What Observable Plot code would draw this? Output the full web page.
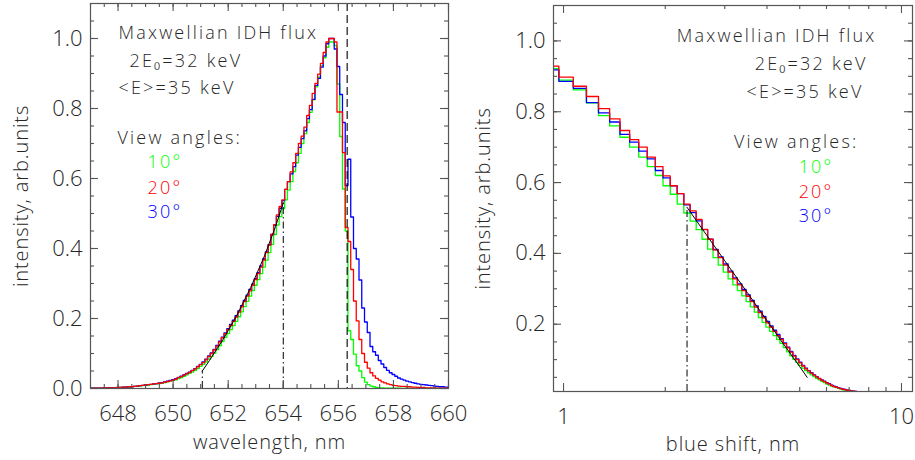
<!DOCTYPE html>
<html><head><meta charset="utf-8">
<script src="https://cdn.jsdelivr.net/npm/d3@7"></script>
<script src="https://cdn.jsdelivr.net/npm/@observablehq/plot@0.6"></script>
<style>
body{margin:0;background:#fff;}
#chart{position:relative;width:915px;height:460px;overflow:hidden;}
#chart svg{position:absolute;top:0;overflow:visible;}
</style></head><body><div id="chart"></div>
<script>
// ---------------- data ----------------
const wavelengths = [
 647.0,647.1,647.2,647.3,647.4,647.5,647.6,647.7,647.8,647.9,
 648.0,648.1,648.2,648.3,648.4,648.5,648.6,648.7,648.8,648.9,
 649.0,649.1,649.2,649.3,649.4,649.5,649.6,649.7,649.8,649.9,
 650.0,650.1,650.2,650.3,650.4,650.5,650.6,650.7,650.8,650.9,
 651.0,651.1,651.2,651.3,651.4,651.5,651.6,651.7,651.8,651.9,
 652.0,652.1,652.2,652.3,652.4,652.5,652.6,652.7,652.8,652.9,
 653.0,653.1,653.2,653.3,653.4,653.5,653.6,653.7,653.8,653.9,
 654.0,654.1,654.2,654.3,654.4,654.5,654.6,654.7,654.8,654.9,
 655.0,655.1,655.2,655.3,655.4,655.5,655.6,655.7,655.8,655.9,
 656.0,656.1,656.2,656.3,656.4,656.5,656.6,656.7,656.8,656.9,
 657.0,657.1,657.2,657.3,657.4,657.5,657.6,657.7,657.8,657.9,
 658.0,658.1,658.2,658.3,658.4,658.5,658.6,658.7,658.8,658.9,
 659.0,659.1,659.2,659.3,659.4,659.5,659.6,659.7,659.8,659.9,
 660.0];

const green10 = [
 0.001,0.001,0.001,0.001,0.001,0.001,0.002,0.002,0.002,0.002,
 0.002,0.003,0.003,0.004,0.004,0.005,0.006,0.006,0.007,0.008,
 0.009,0.010,0.011,0.012,0.013,0.014,0.015,0.017,0.019,0.021,
 0.023,0.025,0.028,0.031,0.035,0.039,0.043,0.047,0.052,0.057,
 0.063,0.069,0.076,0.084,0.092,0.101,0.111,0.122,0.134,0.146,
 0.157,0.168,0.180,0.192,0.205,0.219,0.234,0.249,0.264,0.280,
 0.295,0.311,0.328,0.347,0.367,0.388,0.412,0.440,0.467,0.491,
 0.514,0.539,0.567,0.591,0.620,0.645,0.672,0.700,0.728,0.760,
 0.789,0.825,0.862,0.889,0.922,0.945,0.975,0.990,0.990,0.980,
 0.870,0.720,0.570,0.450,0.165,0.140,0.098,0.065,0.050,0.031,
 0.018,0.011,0.007,0.005,0.003,0.002,0.002,0.001,0.001,0.001,
 0.001,0.001,0.001,0.000,0.000,0.000,0.000,0.000,0.000,0.000,
 0.000,0.000,0.000,0.000,0.000,0.000,0.000,0.000,0.000,0.000,
 0.000];

const red20 = [
 0.001,0.001,0.001,0.001,0.001,0.002,0.002,0.002,0.002,0.002,
 0.003,0.003,0.004,0.004,0.005,0.005,0.006,0.007,0.008,0.009,
 0.010,0.011,0.012,0.013,0.014,0.015,0.016,0.018,0.020,0.022,
 0.024,0.027,0.031,0.034,0.038,0.042,0.046,0.051,0.056,0.062,
 0.068,0.074,0.082,0.091,0.100,0.110,0.121,0.133,0.145,0.157,
 0.168,0.180,0.192,0.204,0.218,0.233,0.248,0.264,0.279,0.295,
 0.311,0.328,0.347,0.367,0.388,0.410,0.440,0.468,0.496,0.520,
 0.539,0.569,0.591,0.619,0.645,0.672,0.700,0.721,0.747,0.780,
 0.809,0.843,0.872,0.898,0.929,0.960,0.990,1.000,1.000,0.990,
 0.790,0.790,0.674,0.460,0.420,0.340,0.250,0.193,0.140,0.100,
 0.075,0.058,0.045,0.036,0.029,0.024,0.019,0.016,0.013,0.011,
 0.009,0.008,0.007,0.006,0.006,0.005,0.005,0.004,0.004,0.003,
 0.003,0.003,0.002,0.002,0.002,0.002,0.001,0.001,0.001,0.001,
 0.001];

const blue30 = [
 0.001,0.001,0.001,0.001,0.001,0.002,0.002,0.002,0.002,0.002,
 0.003,0.003,0.004,0.004,0.005,0.005,0.006,0.007,0.008,0.009,
 0.010,0.011,0.012,0.013,0.014,0.016,0.017,0.019,0.021,0.023,
 0.025,0.028,0.032,0.035,0.039,0.043,0.047,0.052,0.057,0.063,
 0.069,0.076,0.084,0.093,0.102,0.112,0.123,0.135,0.147,0.159,
 0.171,0.183,0.195,0.208,0.222,0.237,0.252,0.267,0.283,0.298,
 0.314,0.331,0.350,0.370,0.390,0.411,0.440,0.467,0.492,0.515,
 0.537,0.569,0.591,0.613,0.634,0.667,0.689,0.714,0.736,0.771,
 0.797,0.826,0.866,0.886,0.918,0.950,0.985,1.000,1.000,0.970,
 0.920,0.840,0.760,0.580,0.655,0.490,0.400,0.370,0.310,0.230,
 0.190,0.160,0.120,0.105,0.095,0.080,0.070,0.060,0.052,0.045,
 0.040,0.035,0.030,0.027,0.024,0.021,0.019,0.017,0.015,0.013,
 0.012,0.011,0.010,0.009,0.008,0.007,0.006,0.005,0.005,0.004,
 0.004];

const seriesNames = ["10°", "20°", "30°"];
const seriesColors = ["#00ff00", "#ff0000", "#0000ff"];

// rest wavelength (dashed line) and blue-wing fit (black line)
const lambda0 = 656.32;
const fitShift = [2.32, 2.6, 3.0, 3.5, 4.0, 4.5, 5.0, 5.26];
const fitIntensity = [0.530, 0.463, 0.379, 0.289, 0.210, 0.141, 0.080, 0.050];

// ticks
const leftXMajor = [648, 650, 652, 654, 656, 658, 660];
const leftXMinor = [647, 647.5, 648, 648.5, 649, 649.5, 650, 650.5, 651, 651.5, 652, 652.5, 653, 653.5,
  654, 654.5, 655, 655.5, 656, 656.5, 657, 657.5, 658, 658.5, 659, 659.5, 660];
const leftYMajor = [0.0, 0.2, 0.4, 0.6, 0.8, 1.0];
const yMinor = [0.05, 0.1, 0.15, 0.2, 0.25, 0.3, 0.35, 0.4, 0.45, 0.5, 0.55, 0.6, 0.65, 0.7, 0.75,
  0.8, 0.85, 0.9, 0.95, 1.0, 1.05];
const rightXMajor = [1, 10];
const rightXMinor = [2, 3, 4, 5, 6, 7, 8, 9];
const rightYMajor = [0.2, 0.4, 0.6, 0.8, 1.0];

const legendLines = ["Maxwellian IDH flux", "2E\u2080=32 keV", "<E>=35 keV", "View angles:"];
const titleTexts = ["wavelength, nm", "blue shift, nm", "intensity, arb.units"];

// ---------------- build rows ----------------
const seriesRows = [green10, red20, blue30].map((vals, k) =>
  wavelengths.map((w, i) => ({series: seriesNames[k], lambda: w, shift: lambda0 - w, I: vals[i]})));
const fitRows = fitShift.map((s, i) => ({shift: s, lambda: lambda0 - s, I: fitIntensity[i]}));

const FONT = "'Open Sans','DejaVu Sans',sans-serif";
const INK = "#262626";
const AXIS = "#555555";
const drawOrder = [0, 2, 1]; // green, blue, red on top

function tickMarks(xMajor, xMinor, yMajor, yMin, fw, fh) {
  const M = 8, m = 4, o = {stroke: AXIS, strokeWidth: 1.1};
  return [
    Plot.ruleX(xMinor, {x: d => d, insetTop: fh - m, ...o}),
    Plot.ruleX(xMinor, {x: d => d, insetBottom: fh - m, ...o}),
    Plot.ruleX(xMajor, {x: d => d, insetTop: fh - M, ...o}),
    Plot.ruleX(xMajor, {x: d => d, insetBottom: fh - M, ...o}),
    Plot.ruleY(yMin, {y: d => d, insetRight: fw - m, ...o}),
    Plot.ruleY(yMin, {y: d => d, insetLeft: fw - m, ...o}),
    Plot.ruleY(yMajor, {y: d => d, insetRight: fw - M, ...o}),
    Plot.ruleY(yMajor, {y: d => d, insetLeft: fw - M, ...o})
  ];
}

function legend(anchor, textAnchor, dxs, dys) {
  const marks = [];
  legendLines.forEach((t, i) => marks.push(Plot.text([t], {
    frameAnchor: anchor, textAnchor, lineAnchor: "bottom", dx: dxs[i], dy: dys[i],
    fontSize: 18, fill: INK})));
  seriesNames.forEach((t, k) => marks.push(Plot.text([t], {
    frameAnchor: anchor, textAnchor, lineAnchor: "bottom", dx: dxs[4], dy: dys[4 + k],
    fontSize: 18, fill: seriesColors[k]})));
  return marks;
}

// ---------------- left panel ----------------
const L = {w: 460, ml: 90, mr: 12, mt: 3, mb: 72};
const Lfw = L.w - L.ml - L.mr, Lfh = 460 - L.mt - L.mb;
const left = Plot.plot({
  width: L.w, height: 460, marginLeft: L.ml, marginRight: L.mr, marginTop: L.mt, marginBottom: L.mb,
  style: {fontFamily: FONT, fontWeight: 300, color: INK, background: "transparent", overflow: "visible"},
  x: {domain: [647, 660]},
  y: {domain: [0, 1.1]},
  marks: [
    ...drawOrder.map(k => Plot.line(seriesRows[k], {x: "lambda", y: "I", curve: "step",
      stroke: seriesColors[k], strokeWidth: 1.3, clip: true})),
    Plot.line(fitRows, {x: "lambda", y: "I", stroke: "#000", strokeWidth: 1}),
    Plot.ruleX([fitRows[0], fitRows[fitRows.length - 1]], {x: "lambda", y1: 0, y2: "I",
      stroke: "#000", strokeWidth: 1, strokeDasharray: "7,3,1.5,3"}),
    Plot.ruleX([lambda0], {x: d => d, stroke: "#000", strokeWidth: 1.1, strokeDasharray: "8,4"}),
    Plot.frame({stroke: AXIS, strokeWidth: 1.2}),
    ...tickMarks(leftXMajor, leftXMinor, leftYMajor, yMinor, Lfw, Lfh),
    Plot.axisX(leftXMajor, {tickSize: 0, tickPadding: 17, fontSize: 22, label: null, tickFormat: d => String(d)}),
    Plot.axisY(leftYMajor, {tickSize: 0, tickPadding: 8, fontSize: 22, label: null, tickFormat: d3.format(".1f")}),
    Plot.text([titleTexts[0]], {frameAnchor: "bottom", dy: 60, lineAnchor: "bottom", fontSize: 20, fill: INK}),
    Plot.text([titleTexts[2]], {frameAnchor: "left", dx: -69, rotate: -90, lineAnchor: "middle",
      textAnchor: "middle", fontSize: 20, fill: INK}),
    ...legend("top-left", "start", [28, 39, 28, 27, 57], [35, 63, 90, 140, 164, 190, 214])
  ]
});

// ---------------- right panel ----------------
const R = {w: 455, ml: 93, mr: 3, mt: 5, mb: 69};
const Rfw = R.w - R.ml - R.mr, Rfh = 460 - R.mt - R.mb;
const right = Plot.plot({
  width: R.w, height: 460, marginLeft: R.ml, marginRight: R.mr, marginTop: R.mt, marginBottom: R.mb,
  style: {fontFamily: FONT, fontWeight: 300, color: INK, background: "transparent", overflow: "visible"},
  x: {type: "log", domain: [0.934, 10.78]},
  y: {domain: [0.01, 1.1]},
  marks: [
    ...drawOrder.map(k => Plot.line(seriesRows[k].filter(d => d.shift > 0.7), {x: "shift", y: "I", curve: "step",
      stroke: seriesColors[k], strokeWidth: 1.3, clip: true})),
    Plot.line(fitRows, {x: "shift", y: "I", stroke: "#000", strokeWidth: 1}),
    Plot.ruleX([fitRows[0]], {x: "shift", y1: 0.01, y2: "I", stroke: "#000", strokeWidth: 1,
      strokeDasharray: "7,3,1.5,3"}),
    Plot.frame({stroke: AXIS, strokeWidth: 1.2}),
    ...tickMarks(rightXMajor, rightXMinor, rightYMajor, yMinor, Rfw, Rfh),
    Plot.axisX(rightXMajor, {tickSize: 0, tickPadding: 17, fontSize: 22, label: null, tickFormat: d => String(d)}),
    Plot.axisY(rightYMajor, {tickSize: 0, tickPadding: 8, fontSize: 22, label: null, tickFormat: d3.format(".1f")}),
    Plot.text([titleTexts[1]], {frameAnchor: "bottom", dy: 59, lineAnchor: "bottom", fontSize: 20, fill: INK}),
    Plot.text([titleTexts[2]], {frameAnchor: "left", dx: -70, rotate: -90, lineAnchor: "middle",
      textAnchor: "middle", fontSize: 20, fill: INK}),
    ...legend("top-right", "end", [-36, -45, -49, -54, -79], [36, 64, 92, 142, 167, 192, 216])
  ]
});

const chart = document.getElementById("chart");
left.style.left = "0px";
right.style.left = "460px";
chart.appendChild(left);
chart.appendChild(right);
const legendSet = new Set([...legendLines, ...seriesNames]);
const titleSet = new Set(titleTexts);
for (const svg of [left, right]) {
  svg.querySelectorAll("text").forEach(t => {
    const s = t.textContent;
    if (legendSet.has(s)) t.setAttribute("letter-spacing", "2.2");
    else if (titleSet.has(s)) t.setAttribute("letter-spacing", "0.9");
  });
}
</script></body></html>
